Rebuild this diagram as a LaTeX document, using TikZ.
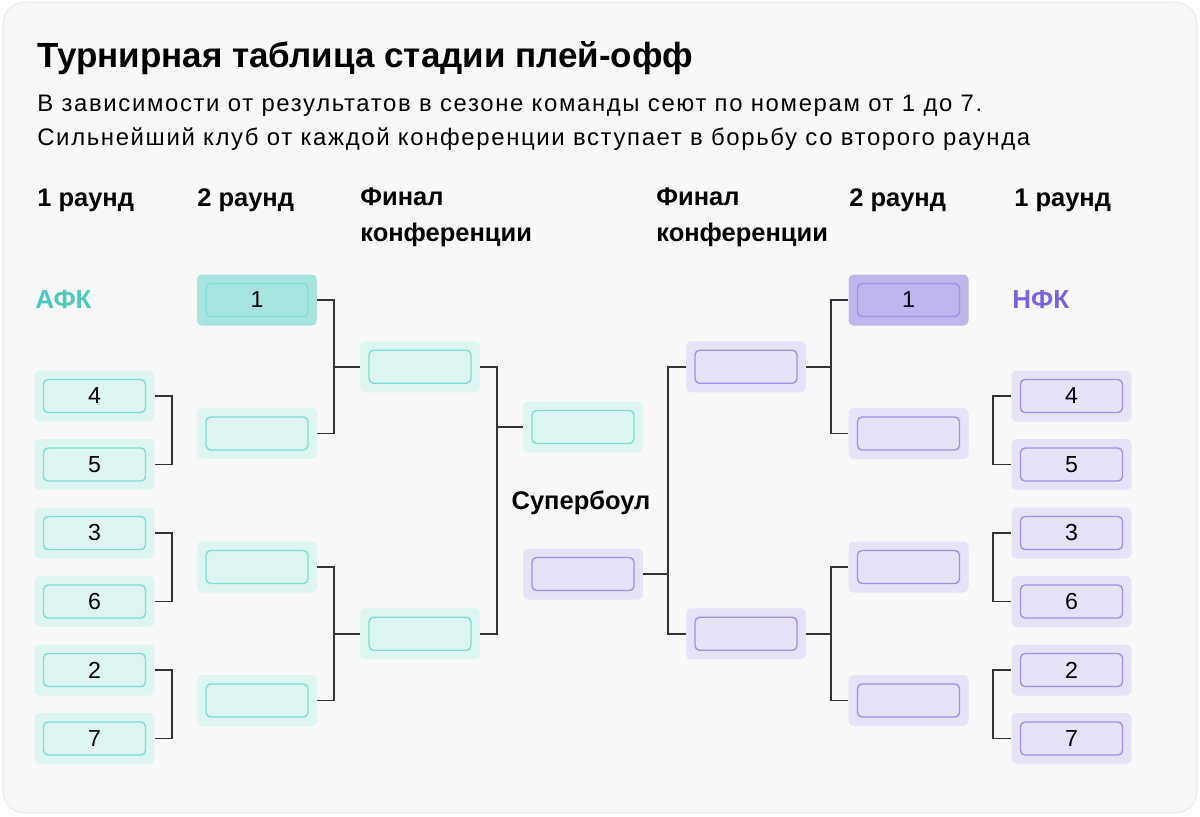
\documentclass[tikz,border=0pt]{standalone}
\usepackage{fontspec}
\setmainfont{Liberation Sans}
\definecolor{cardbg}{HTML}{F8F8F8}
\definecolor{cardline}{HTML}{ECECEC}
\definecolor{afcfill}{HTML}{DDF4F1}
\definecolor{afcline}{HTML}{7FDDD2}
\definecolor{afcdark}{HTML}{A6E4DF}
\definecolor{afctext}{HTML}{4DCABD}
\definecolor{nfcfill}{HTML}{E6E2F7}
\definecolor{nfcline}{HTML}{9F92EE}
\definecolor{nfcdark}{HTML}{BFB6EE}
\definecolor{nfctext}{HTML}{7866E0}
\definecolor{linkc}{HTML}{333333}
\tikzset{
  outerbox/.style={rounded corners=2.8pt, minimum width=2.4cm, minimum height=1.02cm, inner sep=0pt},
  innerbox/.style={draw, rounded corners=2.6pt, minimum width=2.04cm, minimum height=0.66cm, inner sep=0pt, line width=0.8pt, font=\fontsize{13.2}{13.2}\selectfont},
  link/.style={draw=linkc, line width=1.1pt},
  head/.style={anchor=base west, inner sep=0pt, font=\fontsize{14.5}{20.4}\selectfont\bfseries, align=left},
  subtext/.style={anchor=base west, inner sep=0pt, font=\fontsize{13.6}{16}\selectfont\addfontfeature{LetterSpace=6.9}},
}
\newcommand\tbox[5]{%
  \node[outerbox, fill=#3] (#1) at (#2) {};
  \node[innerbox, fill=#3, draw=#4] (#1i) at (#2) {#5};
}
\begin{document}
\begin{tikzpicture}[x=0.02cm,y=-0.02cm]
\useasboundingbox (0,0) rectangle (1200,816);
\fill[white] (0,0) rectangle (1200,816);
\draw[fill=cardbg, draw=cardline, line width=0.6pt, rounded corners=0.44cm] (3,2) rectangle (1197,813);

% title and subtitle
\node[anchor=base west, inner sep=0pt, font=\fontsize{19.9}{24}\selectfont\bfseries] (title) at (37,67) {Турнирная таблица стадии плей-офф};
\node[subtext] (sub1) at (37,111.5) {В зависимости от результатов в сезоне команды сеют по номерам от 1 до 7.};
\node[subtext] (sub2) at (37,145.5) {Сильнейший клуб от каждой конференции вступает в борьбу со второго раунда};

% column headings
\node[head] (h1) at (37,206) {1 раунд};
\node[head] (h2) at (197,206) {2 раунд};
\node[head] (h3) at (360,241) {Финал\\конференции};
\node[head] (h4) at (656,241) {Финал\\конференции};
\node[head] (h5) at (849,206) {2 раунд};
\node[head] (h6) at (1014,206) {1 раунд};

% conference labels
\node[anchor=west, inner sep=0pt, text=afctext, font=\fontsize{14.8}{16}\selectfont\bfseries] (afc) at (35,300) {АФК};
\node[anchor=west, inner sep=0pt, text=nfctext, font=\fontsize{14.8}{16}\selectfont\bfseries] (nfc) at (1012,300) {НФК};
\node[anchor=base, inner sep=0pt, font=\fontsize{14.5}{16}\selectfont\bfseries] (sb) at (581,509) {Супербоул};

% AFC round 1
\tbox{a4}{94.5,396}{afcfill}{afcline}{4}
\tbox{a5}{94.5,464.5}{afcfill}{afcline}{5}
\tbox{a3}{94.5,533}{afcfill}{afcline}{3}
\tbox{a6}{94.5,601.5}{afcfill}{afcline}{6}
\tbox{a2}{94.5,670}{afcfill}{afcline}{2}
\tbox{a7}{94.5,738.5}{afcfill}{afcline}{7}
% AFC round 2
\tbox{ar1}{257,300}{afcdark}{afcline}{1}
\tbox{ar2}{257,433.5}{afcfill}{afcline}{}
\tbox{ar3}{257,567}{afcfill}{afcline}{}
\tbox{ar4}{257,700.5}{afcfill}{afcline}{}
% AFC conference final
\tbox{ac1}{420,366.75}{afcfill}{afcline}{}
\tbox{ac2}{420,633.75}{afcfill}{afcline}{}
% Super Bowl
\tbox{sba}{583,427}{afcfill}{afcline}{}
\tbox{sbn}{583,574}{nfcfill}{nfcline}{}
% NFC conference final
\tbox{nc1}{746,366.75}{nfcfill}{nfcline}{}
\tbox{nc2}{746,633.75}{nfcfill}{nfcline}{}
% NFC round 2
\tbox{nr1}{908.5,300}{nfcdark}{nfcline}{1}
\tbox{nr2}{908.5,433.5}{nfcfill}{nfcline}{}
\tbox{nr3}{908.5,567}{nfcfill}{nfcline}{}
\tbox{nr4}{908.5,700.5}{nfcfill}{nfcline}{}
% NFC round 1
\tbox{n4}{1071.5,396}{nfcfill}{nfcline}{4}
\tbox{n5}{1071.5,464.5}{nfcfill}{nfcline}{5}
\tbox{n3}{1071.5,533}{nfcfill}{nfcline}{3}
\tbox{n6}{1071.5,601.5}{nfcfill}{nfcline}{6}
\tbox{n2}{1071.5,670}{nfcfill}{nfcline}{2}
\tbox{n7}{1071.5,738.5}{nfcfill}{nfcline}{7}

% AFC connectors
\draw[link] (a4.east) -- ++(17,0) |- (a5.east);
\draw[link] (a3.east) -- ++(17,0) |- (a6.east);
\draw[link] (a2.east) -- ++(17,0) |- (a7.east);
\draw[link] (ar1.east) -- ++(17,0) |- (ar2.east);
\draw[link] (ar3.east) -- ++(17,0) |- (ar4.east);
\draw[link] (ac1.west) -- ++(-26.5,0);
\draw[link] (ac2.west) -- ++(-26.5,0);
\draw[link] (ac1.east) -- ++(17,0) |- (ac2.east);
\draw[link] (sba.west) -- ++(-26,0);
% NFC connectors
\draw[link] (nc1.west) -- ++(-18,0) |- (nc2.west);
\draw[link] (sbn.east) -- ++(25,0);
\draw[link] (nr1.west) -- ++(-17.5,0) |- (nr2.west);
\draw[link] (nr3.west) -- ++(-17.5,0) |- (nr4.west);
\draw[link] (nc1.east) -- ++(25.5,0);
\draw[link] (nc2.east) -- ++(25.5,0);
\draw[link] (n4.west) -- ++(-18,0) |- (n5.west);
\draw[link] (n3.west) -- ++(-18,0) |- (n6.west);
\draw[link] (n2.west) -- ++(-18,0) |- (n7.west);
\end{tikzpicture}
\end{document}
